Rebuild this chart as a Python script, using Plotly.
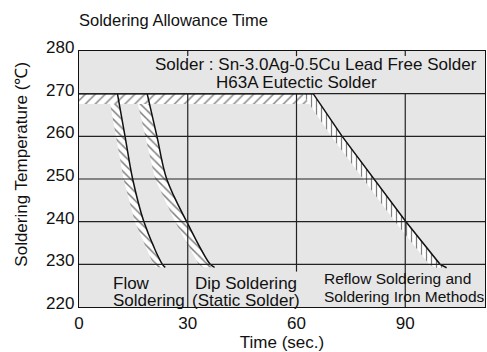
import numpy as np
import plotly.graph_objects as go

# Axis ticks
x_ticks = [0, 30, 60, 90]
y_ticks = [220, 230, 240, 250, 260, 270, 280]

# Allowance limit curves: soldering temperature (deg C) vs time (s)
flow_temp = [270, 260, 250, 240, 230, 229.3]
flow_time = [10.6, 12.7, 14.8, 17.9, 23.0, 23.8]

dip_temp = [270, 260, 250, 240, 230, 229.3]
dip_time = [18.8, 21.5, 24.2, 29.7, 36.2, 37.4]

reflow_temp = [270, 260, 250, 240, 230, 229.2]
reflow_time = [64.6, 72.6, 81.4, 90.2, 99.6, 101.4]

# Peak temperature limit and its hatched depth
peak_temp = 270
hatch_depth = 2.4

FONT = "Liberation Sans, Arial, sans-serif"
INK = "#111111"
PLOT_BG = "#e6e6e6"


def band(times, temps, width):
    """Hatched band on the cool side (left) of a limit curve."""
    xs = list(times) + [t - width for t in times[::-1]]
    ys = list(temps) + list(temps[::-1])
    return xs, ys


def hatch(shape, size=7, solidity=0.2):
    return dict(shape=shape, fgcolor="black", bgcolor="white",
                size=size, solidity=solidity)


fig = go.Figure()

# Curve bands (drawn first so the peak band sits over their tops)
for times, temps, width, pat in [(flow_time, flow_temp, 2.5,
                                  hatch("\\", 6, 0.25)),
                                 (dip_time, dip_temp, 3.2,
                                  hatch("\\", 6, 0.25)),
                                 (reflow_time, reflow_temp, 3.0,
                                  hatch("|", 5, 0.25))]:
    bx, by = band(times, temps, width)
    fig.add_trace(go.Scatter(x=bx, y=by, fill="toself", mode="lines",
                             line=dict(width=0), fillcolor="white",
                             fillpattern=pat, hoverinfo="skip",
                             showlegend=False))

# Hatched band just below the peak temperature
reflow_w = 3.0
edge_top = reflow_time[0] - reflow_w
edge_low = np.interp(peak_temp - hatch_depth, reflow_temp[::-1],
                     reflow_time[::-1]) - reflow_w
fig.add_trace(go.Scatter(
    x=[0, edge_top, edge_low, 0],
    y=[peak_temp, peak_temp, peak_temp - hatch_depth, peak_temp - hatch_depth],
    fill="toself", mode="lines", line=dict(width=0), fillcolor="white",
    fillpattern=hatch("/"), hoverinfo="skip", showlegend=False))

# Limit curve edges
fig.add_trace(go.Scatter(x=[0] + reflow_time, y=[peak_temp] + reflow_temp,
                         mode="lines", line=dict(color=INK, width=1.5),
                         hoverinfo="skip", showlegend=False))
for times, temps in [(flow_time, flow_temp), (dip_time, dip_temp)]:
    fig.add_trace(go.Scatter(x=times, y=temps, mode="lines",
                             line=dict(color=INK, width=1.5, shape="spline"),
                             hoverinfo="skip", showlegend=False))

# Grid lines, drawn over the hatching
shapes = []
grid_floor = {30: 220, 60: 228.3, 90: 220}
for xv in x_ticks[1:]:
    shapes.append(dict(type="line", xref="x", yref="y", x0=xv, x1=xv,
                       y0=grid_floor[xv], y1=peak_temp, layer="above",
                       line=dict(color="#222222", width=1.2)))
    shapes.append(dict(type="line", xref="x", yref="y", x0=xv, x1=xv,
                       y0=y_ticks[-1] - 1.2, y1=y_ticks[-1], layer="above",
                       line=dict(color="#222222", width=1.2)))
for yv in y_ticks[1:-1]:
    shapes.append(dict(type="line", xref="paper", yref="y", x0=0, x1=1,
                       y0=yv, y1=yv, layer="above",
                       line=dict(color="#222222", width=1.2)))

ann_font = dict(family=FONT, size=17, color=INK)
small_font = dict(family=FONT, size=15.5, color=INK)
annotations = [
    dict(x=65.4, y=276.9, text="Solder : Sn-3.0Ag-0.5Cu Lead Free Solder",
         xanchor="center"),
    dict(x=60.1, y=272.7, text="H63A Eutectic Solder", xanchor="center"),
    dict(x=8.8, y=225.6, text="Flow", xanchor="left"),
    dict(x=8.8, y=221.6, text="Soldering", xanchor="left"),
    dict(x=46.2, y=225.6, text="Dip Soldering", xanchor="center"),
    dict(x=46.1, y=221.6, text="(Static Solder)", xanchor="center"),
    dict(x=66.9, y=226.7, text="Reflow Soldering and", xanchor="left",
         font=small_font),
    dict(x=66.9, y=222.5, text="Soldering Iron Methods", xanchor="left",
         font=small_font),
]
for a in annotations:
    a.setdefault("font", ann_font)
    a.update(xref="x", yref="y", yanchor="middle", showarrow=False)
annotations.append(dict(
    xref="paper", yref="paper", x=0, xshift=-57, y=0.556,
    text="Soldering Temperature (℃)", textangle=-90, showarrow=False,
    xanchor="center", yanchor="middle", font=ann_font))

fig.update_layout(
    width=487, height=352,
    margin=dict(l=79, r=2, t=51, b=45),
    paper_bgcolor="white", plot_bgcolor=PLOT_BG,
    font=dict(family=FONT, size=17, color=INK),
    title=dict(text="Soldering Allowance Time", xref="paper", x=0,
               xanchor="left", yref="container", y=1 - 20 / 352,
               yanchor="middle", font=dict(family=FONT, size=16.5, color=INK)),
    shapes=shapes, annotations=annotations,
    xaxis=dict(range=[0, 112], tickvals=x_ticks, showgrid=False,
               zeroline=False, showline=True, linecolor=INK, linewidth=1.3,
               mirror=True, ticks="",
               title=dict(text="Time (sec.)", standoff=6,
                          font=dict(family=FONT, size=17, color=INK))),
    yaxis=dict(range=[220, 280], tickvals=y_ticks, showgrid=False,
               zeroline=False, showline=True, linecolor=INK, linewidth=1.3,
               mirror=True, ticks="", ticklabelshift=-4),
)

fig.write_html("out.html")
